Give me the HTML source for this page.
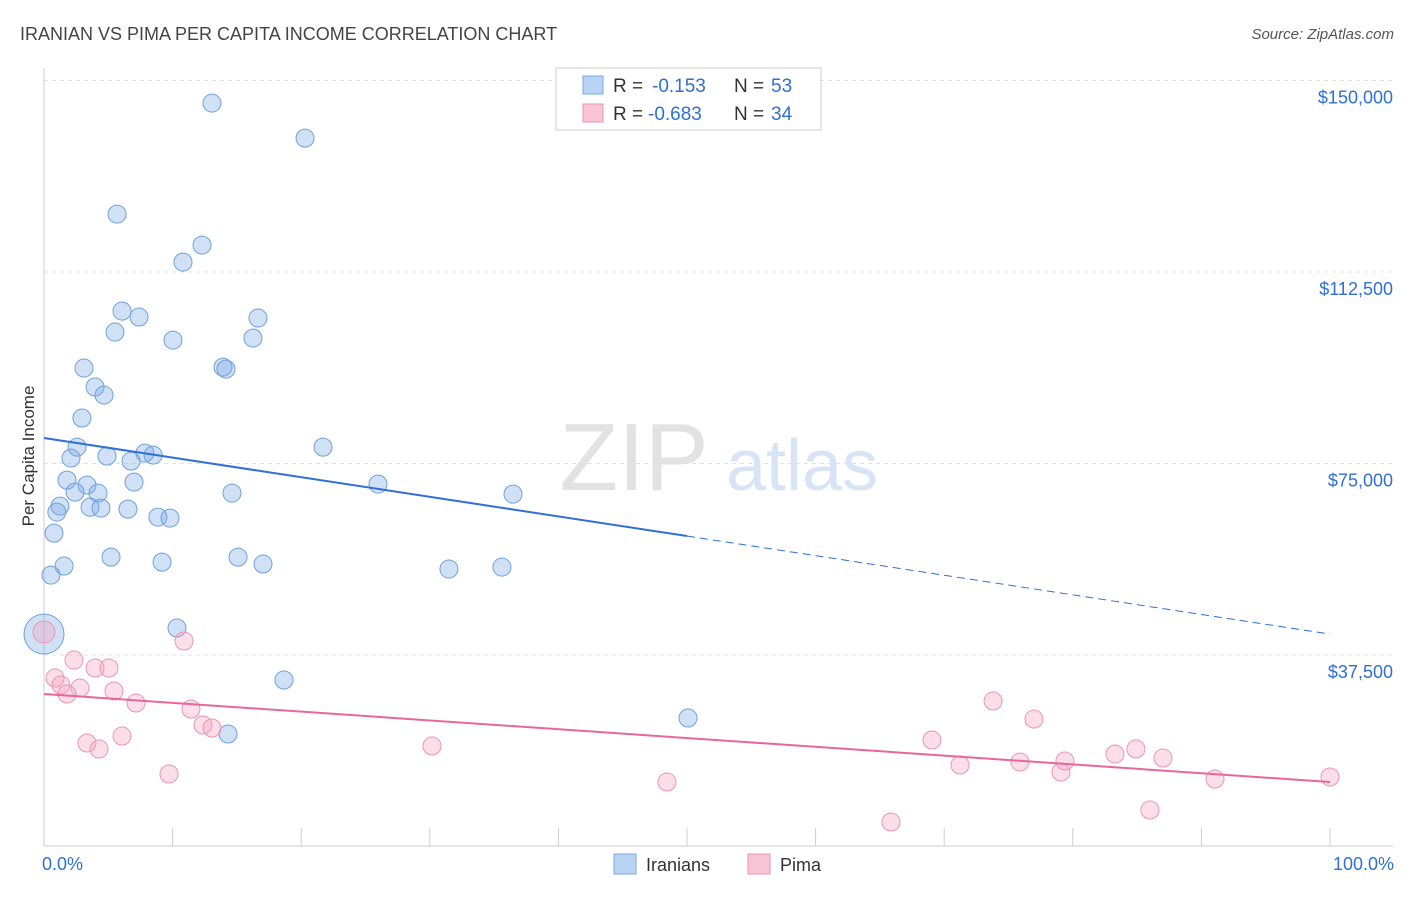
<!DOCTYPE html>
<html><head><meta charset="utf-8">
<style>
body{margin:0;background:#fff;font-family:"Liberation Sans",sans-serif;}
svg text{font-family:"Liberation Sans",sans-serif;}
</style></head>
<body>
<svg width="1406" height="892" viewBox="0 0 1406 892" xmlns="http://www.w3.org/2000/svg">
<text x="20" y="40" font-size="18" fill="#444">IRANIAN VS PIMA PER CAPITA INCOME CORRELATION CHART</text>
<text x="1394" y="39" font-size="15" fill="#555" font-style="italic" text-anchor="end">Source: ZipAtlas.com</text>
<g>
<text x="634" y="490" font-size="96" fill="#e2e2e2" font-family="Liberation Serif" text-anchor="middle">ZIP</text>
<text x="802" y="490" font-size="72" fill="#d6e4f5" text-anchor="middle">atlas</text>
</g>
<g id="grid"></g>
<g id="axes"></g>
<g id="marks"></g>
<text transform="translate(34,456) rotate(-90)" font-size="17" fill="#333" text-anchor="middle">Per Capita Income</text>
<g>
<rect x="556" y="68" width="265" height="62" fill="#fff" stroke="#ccc"/>
<rect x="583" y="76" width="20" height="18" fill="#b8d3f3" stroke="#7aa8dc"/>
<rect x="583" y="104" width="20" height="18" fill="#f9c4d4" stroke="#e896b4"/>
<text x="613" y="92" font-size="19" fill="#333">R =</text>
<text x="652" y="92" font-size="19" fill="#2f6fd6">-0.153</text>
<text x="734" y="92" font-size="19" fill="#333">N =</text>
<text x="771" y="92" font-size="19" fill="#2f6fd6">53</text>
<text x="613" y="120" font-size="19" fill="#333">R =</text>
<text x="648" y="120" font-size="19" fill="#2f6fd6">-0.683</text>
<text x="734" y="120" font-size="19" fill="#333">N =</text>
<text x="771" y="120" font-size="19" fill="#2f6fd6">34</text>
</g>
<g>
<rect x="614" y="854" width="22" height="20" fill="#b8d3f3" stroke="#7aa8dc"/>
<text x="646" y="871" font-size="18" fill="#333">Iranians</text>
<rect x="748" y="854" width="22" height="20" fill="#f9c4d4" stroke="#e896b4"/>
<text x="780" y="871" font-size="18" fill="#333">Pima</text>
</g>
</svg>
<script>
const yTicks=[37500,75000,112500,150000];
const yTickLabels=["$37,500","$75,000","$112,500","$150,000"];
const xTickLabels=["0.0%","100.0%"];
const iranX=[13.06,20.3,5.68,12.29,10.81,6.07,7.39,16.64,5.52,10.03,16.25,3.11,13.92,14.15,3.97,4.67,2.95,2.57,21.7,2.1,4.9,7.85,8.48,6.77,1.79,7.0,3.34,25.97,2.41,4.2,14.62,36.47,1.24,1.0,3.58,4.43,6.53,8.86,9.8,0.78,5.21,15.09,9.18,1.56,17.03,31.49,35.61,0.54,0,10.34,18.66,50.08,14.31];
const iranY=[145580,138720,123840,117770,114440,104850,103680,103480,100740,99170,99560,93690,93880,93490,89970,88400,83900,78210,78210,76060,76450,77040,76650,75470,71750,71360,70770,70970,69400,69210,69210,69010,66660,65490,66460,66270,66070,64510,64310,61370,56670,56670,55690,54920,55310,54330,54720,53150,41600,42780,32600,25160,22030];
const pimaX=[0,10.89,2.33,3.97,5.05,0.86,1.32,2.8,1.79,5.44,7.15,11.43,12.36,13.06,6.07,3.34,4.28,30.17,9.72,48.44,65.86,69.05,71.23,73.8,75.89,76.98,79.08,79.39,83.28,84.91,86.0,87.01,91.06,100];
const pimaY=[42000,40240,36510,34950,34950,32990,31620,31030,29860,30450,28100,26920,23790,23200,21630,20270,19090,19680,14200,12630,4800,20850,15960,28490,16550,24960,14590,16740,18110,19090,7150,17330,13220,13610];
const iranTrend=[79990,41600];
const pimaTrend=[29860,12630];
const NS="http://www.w3.org/2000/svg";
const X0=44,X1=1330,Y0=846.5,PXV=191.5/37500;
const xs=v=>X0+(X1-X0)*v/100, ys=v=>Y0-v*PXV;
function mk(tag,attrs,parent){const e=document.createElementNS(NS,tag);for(const k in attrs)e.setAttribute(k,attrs[k]);document.getElementById(parent).appendChild(e);return e;}
yTicks.forEach((t,i)=>{
 const l=mk('line',{x1:X0,x2:1393,y1:ys(t),y2:ys(t),stroke:'#e0e0e0','stroke-dasharray':'4,4'},'grid');
 
 
 const tx=mk('text',{x:1393,y:ys(t)+23,'font-size':18,fill:'#2f6fd6','text-anchor':'end'},'axes');
 tx.textContent=yTickLabels[i];
 
 
});
let ax=mk('line',{x1:X0,x2:X0,y1:68,y2:846,stroke:'#ccc'},'axes');


ax=mk('line',{x1:X0,x2:1393,y1:846,y2:846,stroke:'#ccc'},'axes');


for(let i=0;i<=10;i++){
 const t=mk('line',{x1:xs(i*10),x2:xs(i*10),y1:828,y2:846,stroke:'#ccc'},'axes');
 
 
}
[[X0-2,'start'],[1394,'end']].forEach((p,i)=>{
 const tx=mk('text',{x:p[0],y:870,'font-size':18,fill:'#2f6fd6','text-anchor':p[1]},'axes');
 tx.textContent=xTickLabels[i];
 
 
});
function dots(X,Y,fill,stroke,name){
 X.forEach((x,i)=>{
  const big=(x===0&&Y[i]>40000);
  const c=mk('circle',{cx:xs(x),cy:ys(Y[i]),r:big?(name==='iranian-point'?20:11):9,fill:fill,stroke:stroke,'stroke-width':1},'marks');
  
  
 });
}
dots(iranX,iranY,'rgba(120,170,230,0.35)','#6fa0dc','iranian-point');
dots(pimaX,pimaY,'rgba(245,160,190,0.35)','#e896b4','pima-point');
const bMid=iranTrend[0]+(iranTrend[1]-iranTrend[0])*0.5;
let tl=mk('line',{x1:xs(0),y1:ys(iranTrend[0]),x2:xs(50),y2:ys(bMid),stroke:'#2f6fd6','stroke-width':2},'marks');


tl=mk('line',{x1:xs(50),y1:ys(bMid),x2:xs(100),y2:ys(iranTrend[1]),stroke:'#2f6fd6','stroke-width':1,'stroke-dasharray':'8,5'},'marks');


tl=mk('line',{x1:xs(0),y1:ys(pimaTrend[0]),x2:xs(100),y2:ys(pimaTrend[1]),stroke:'#e8679a','stroke-width':2},'marks');


</script>
</body></html>
